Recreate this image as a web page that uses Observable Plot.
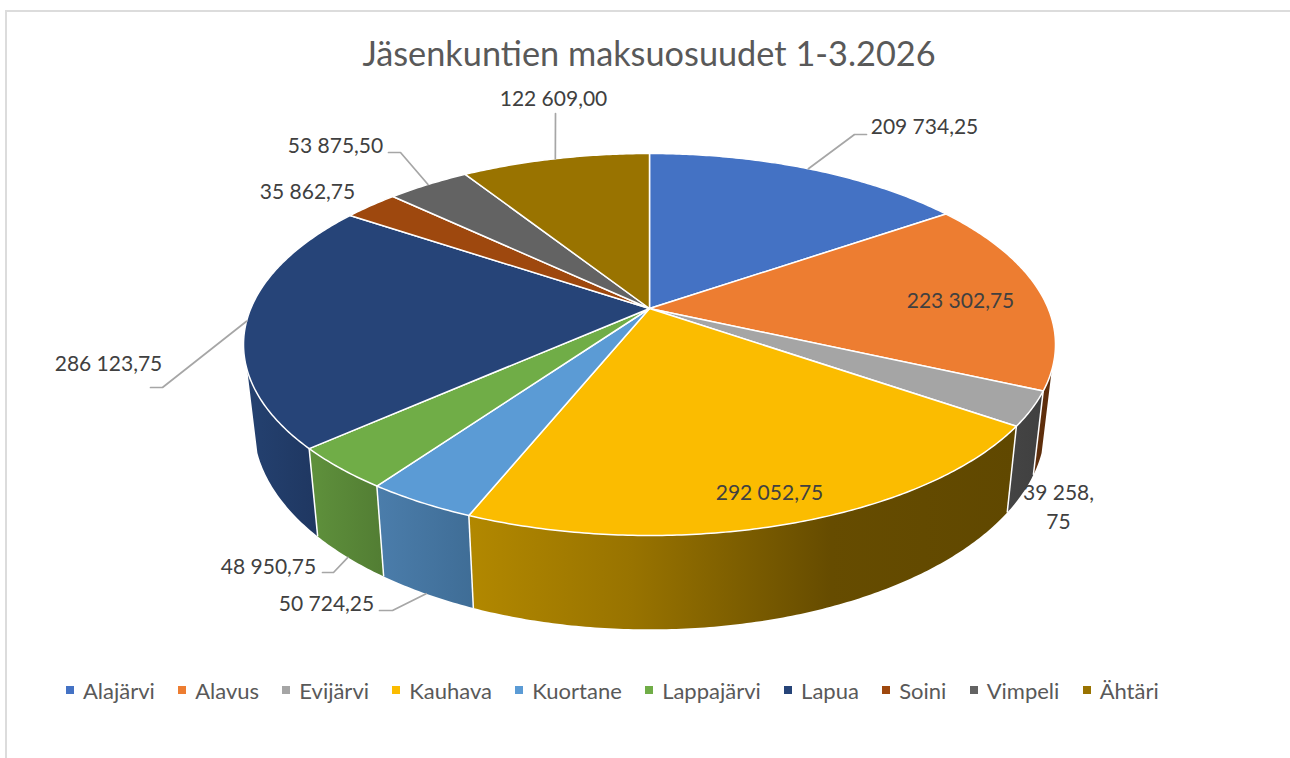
<!DOCTYPE html>
<html lang="fi">
<head>
<meta charset="utf-8">
<script src="https://cdn.jsdelivr.net/npm/d3@7"></script>
<script src="https://cdn.jsdelivr.net/npm/@observablehq/plot@0.6"></script>
<style>
  html, body { margin: 0; padding: 0; background: #fff; }
  body { width: 1290px; height: 758px; overflow: hidden; position: relative; font-family: Lato, "Open Sans", sans-serif; }
  #frame { position: absolute; left: 5px; top: 10px; right: 0; bottom: 0; border-left: 2px solid #dcdcdc; border-top: 2px solid #dcdcdc; }
  #title { position: relative; box-sizing: border-box; height: 80px; line-height: 56px; padding: 25px 0 0 8px; text-align: center; font-size: 34.3px; color: #595959; }
  #chart { position: relative; height: 570px; }
  #chart svg { display: block; background: transparent; }
  #legend { position: relative; display: flex; align-items: center; padding: 28px 0 0 66px; font-size: 22px; color: #595959; height: 24px; }
  #legend .item { display: flex; align-items: center; margin-right: 23.3px; }
  #legend i { display: inline-block; width: 8px; height: 8px; margin-right: 9px; }
</style>
</head>
<body>
<div id="frame"></div>
<div id="title">Jäsenkuntien maksuosuudet 1-3.2026</div>
<div id="chart"></div>
<div id="legend"></div>
<script>
const municipalities = ["Alajärvi", "Alavus", "Evijärvi", "Kauhava", "Kuortane", "Lappajärvi", "Lapua", "Soini", "Vimpeli", "Ähtäri"];
const payments = [209734.25, 223302.75, 39258.75, 292052.75, 50724.25, 48950.75, 286123.75, 35862.75, 53875.5, 122609];
const topColors = ["#4472C4", "#ED7D31", "#A5A5A5", "#FBBC00", "#5B9BD5", "#70AD47", "#264478", "#9E480E", "#636363", "#997300"];
const wallStops = [
  [[0, "#2c4a86"], [1, "#2c4a86"]],
  [[0, "#5f2f0c"], [1, "#5c2d0b"]],
  [[0, "#444444"], [1, "#404040"]],
  [[0, "#b28800"], [0.3, "#987300"], [0.66, "#664c00"], [1, "#604800"]],
  [[0, "#4b7dab"], [1, "#3f6d96"]],
  [[0, "#5f913c"], [1, "#527d33"]],
  [[0, "#244170"], [1, "#1f3761"]],
  [[0, "#5f2c08"], [1, "#5f2c08"]],
  [[0, "#3c3c3c"], [1, "#3c3c3c"]],
  [[0, "#5c4500"], [1, "#5c4500"]]
];

// Label layout, in pixels from the pie's centre: text centre, then optional elbow and end of the leader.
const labelPlace = [
  {x: 275, y: -184, leader: [[205, -174], [217, -174]]},
  {x: 311, y: -10},
  {x: 409, y: 197, wrap: true},
  {x: 120, y: 182},
  {x: -323, y: 293, onWall: true, leader: [[-257, 302], [-270, 302]]},
  {x: -381, y: 256, onWall: true, leader: [[-316, 264], [-327, 264]]},
  {x: -541, y: 53, leader: [[-487, 79], [-499, 79]]},
  {x: -342, y: -119},
  {x: -314, y: -165, leader: [[-249, -156], [-261, -156]]},
  {x: -96, y: -212, leader: [[-94, -195]]}
];

// Perspective of the pie: top disc, and the bottom disc seen through it.
const persp = 0.1885, spanX = 398.7, spanY = 184.2;
const shrink = 0.975, wallBase = 78, wallGrow = 0.07;
// The outer wall shows only between these two bearings (degrees clockwise from the back of the pie).
const wallFrom = 108.5 * Math.PI / 180, wallTo = 251.5 * Math.PI / 180;
function topPoint(angle) {
  const X = Math.sin(angle), Y = -Math.cos(angle), w = 1 - persp * Y;
  return {x: spanX * X / w, y: spanY * Y / w};
}
function bottomPoint(angle) {
  const p = topPoint(angle);
  return {x: p.x * shrink, y: p.y + wallBase + wallGrow * p.y};
}
function arc(start, end, f) {
  const n = Math.max(4, Math.ceil((end - start) / 0.01));
  return d3.range(n + 1).map(i => f(start + (end - start) * i / n));
}

const fiFormat = d3.formatLocale({decimal: ",", thousands: " ", grouping: [3]}).format(",.2f");
const slices = d3.pie().sort(null).value(d => d)(payments);

const wallGradients = () => {
  const defs = d3.create("svg:defs");
  wallStops.forEach((stops, i) => {
    const g = defs.append("linearGradient").attr("id", `wall-${i}`);
    stops.forEach(([o, c]) => g.append("stop").attr("offset", o).attr("stop-color", c));
  });
  return defs.node();
};

const wallMarks = slices.flatMap((s, i) => {
  const a = Math.max(s.startAngle, wallFrom), b = Math.min(s.endAngle, wallTo);
  if (a >= b) return [];
  return [Plot.line([...arc(a, b, topPoint), ...arc(a, b, bottomPoint).reverse()],
    {x: "x", y: "y", fill: `url(#wall-${i})`, stroke: "none"})];
});

const corners = slices
  .filter(s => s.startAngle > wallFrom && s.startAngle < wallTo)
  .map(s => ({a: topPoint(s.startAngle), b: bottomPoint(s.startAngle)}));
const cornerMark = Plot.link(corners, {
  x1: d => d.a.x, y1: d => d.a.y, x2: d => d.b.x, y2: d => d.b.y,
  stroke: "#ffffff", strokeWidth: 1.5
});

const faceMarks = slices.map((s, i) => {
  const c = {x: 0, y: 0};
  return Plot.line([c, ...arc(s.startAngle, s.endAngle, topPoint), c],
    {x: "x", y: "y", fill: topColors[i], stroke: "#ffffff", strokeWidth: 1.5, strokeLinejoin: "round"});
});

const leaderMarks = slices.flatMap((s, i) => {
  const place = labelPlace[i];
  if (!place.leader) return [];
  const mid = (s.startAngle + s.endAngle) / 2;
  const start = place.onWall ? bottomPoint(mid) : topPoint(mid);
  const pts = [start, ...place.leader.map(([x, y]) => ({x, y}))];
  return [Plot.line(pts, {x: "x", y: "y", stroke: "#a6a6a6", strokeWidth: 1.7})];
});

const labelRows = payments.map((v, i) => {
  const text = fiFormat(v);
  return {x: labelPlace[i].x, y: labelPlace[i].y, text: labelPlace[i].wrap ? text.replace(",", ",\n") : text};
});
const labelMark = Plot.text(labelRows, {
  x: "x", y: "y", text: "text", fill: "#404040", fontSize: 21, lineHeight: 1.35,
  textAnchor: "middle", lineAnchor: "middle", fontFamily: "Lato, 'Open Sans', sans-serif"
});

const chart = Plot.plot({
  width: 1290,
  height: 570,
  margin: 0,
  x: {domain: [-649, 641], range: [0, 1290], axis: null},
  y: {domain: [-228, 342], range: [0, 570], axis: null},
  marks: [wallGradients, ...wallMarks, cornerMark, ...faceMarks, ...leaderMarks, labelMark]
});
document.getElementById("chart").append(chart);

const legend = d3.select("#legend");
municipalities.forEach((name, i) => {
  const item = legend.append("span").attr("class", "item");
  item.append("i").style("background", topColors[i]);
  item.append("span").text(name);
});
</script>
</body>
</html>
